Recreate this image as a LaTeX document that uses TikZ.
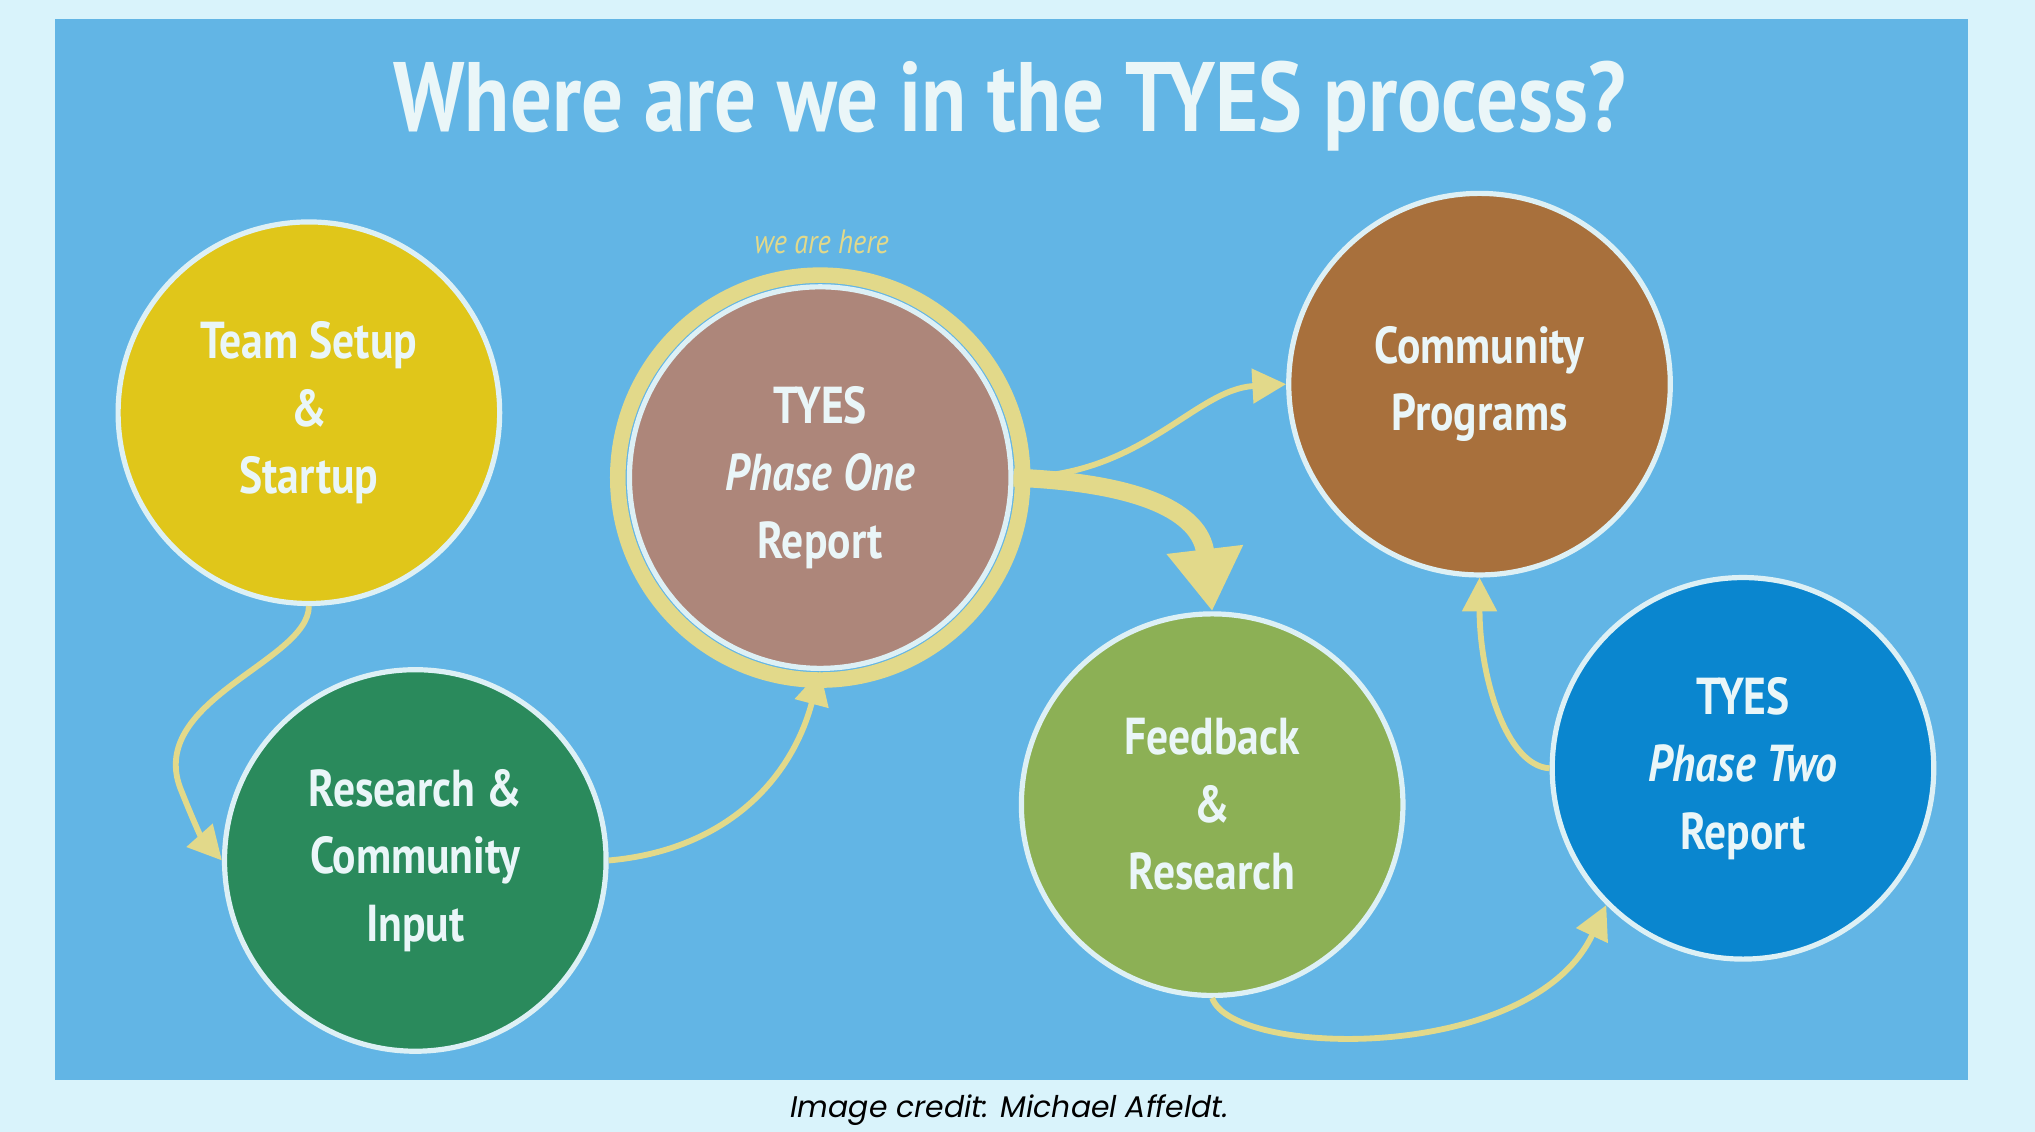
\documentclass[tikz,border=0pt]{standalone}
\usepackage{fontspec}
\setmainfont{PT Sans}[FakeStretch=0.84]
\newfontfamily\capfont{Poppins}
\usetikzlibrary{arrows.meta}
\definecolor{outerbg}{HTML}{D9F3FB}
\definecolor{innerbg}{HTML}{62B5E5}
\definecolor{ring}{HTML}{DDF0F5}
\definecolor{arr}{HTML}{E2D98A}
\definecolor{txt}{HTML}{EAF6F8}
\definecolor{cyel}{HTML}{E0C61A}
\definecolor{cgrn}{HTML}{2A8A5C}
\definecolor{cpink}{HTML}{AD867A}
\definecolor{cfb}{HTML}{8CB055}
\definecolor{ccom}{HTML}{A8703C}
\definecolor{cblu}{HTML}{0A86CF}
\tikzset{
 bubble/.style={circle,draw=ring,line width=4pt,minimum size=294pt,inner sep=0pt,align=center,
   text=txt,font=\fontsize{40}{52}\selectfont\bfseries},
 flow/.style={draw=arr,line width=4.5pt,-{Triangle[length=26pt,width=26pt]}},
}
\begin{document}
\begin{tikzpicture}[x=1pt,y=-1pt]
\fill[outerbg] (0,0) rectangle (1568,872);
\useasboundingbox (0,0) rectangle (1568,872);
\fill[innerbg] (42,15) rectangle (1516,832);
\node[text=txt,font=\fontsize{76}{80}\selectfont\bfseries] (title) at (778,82) {Where are we in the TYES process?};
\node[text=arr,font=\fontsize{26}{30}\selectfont\itshape] (here) at (633,186) {we are here};
\node[font=\capfont\fontsize{23}{26}\selectfont\itshape] (cap) at (778,855) {Image credit: Michael Affeldt.};

\node[bubble,fill=cyel] (ts) at (238,318) {Team Setup\\\&\\Startup};
\node[bubble,fill=cgrn] (rc) at (320,663) {Research \&\\Community\\Input};
\draw[arr,line width=12pt] (632,368) circle (156pt);
\node[bubble,fill=cpink] (p1) at (632,368) {TYES\\\textit{Phase One}\\Report};
\node[bubble,fill=cfb] (fb) at (934,620) {Feedback\\\&\\Research};
\node[bubble,fill=ccom] (cp) at (1140,296) {Community\\Programs};
\node[bubble,fill=cblu] (p2) at (1343,592) {TYES\\\textit{Phase Two}\\Report};

\draw[flow] (ts.south) .. controls (238,510) and (110,540) .. (140,610) .. controls (150,635) and (155,645) .. (rc.west);
\draw[flow] (rc.east) .. controls (560,655) and (610,600) .. (p1.south);
\draw[flow] (p1.east) .. controls (880,368) and (920,300) .. (cp.west);
\draw[draw=arr,line width=14pt,-{Triangle[length=48pt,width=56pt]}] (p1.east) .. controls (880,372) and (925,395) .. (fb.north);
\draw[flow] (fb.south) .. controls (950,815) and (1180,820) .. (p2.south west);
\draw[flow] (p2.west) .. controls (1160,590) and (1140,520) .. (cp.south);
\end{tikzpicture}
\end{document}
